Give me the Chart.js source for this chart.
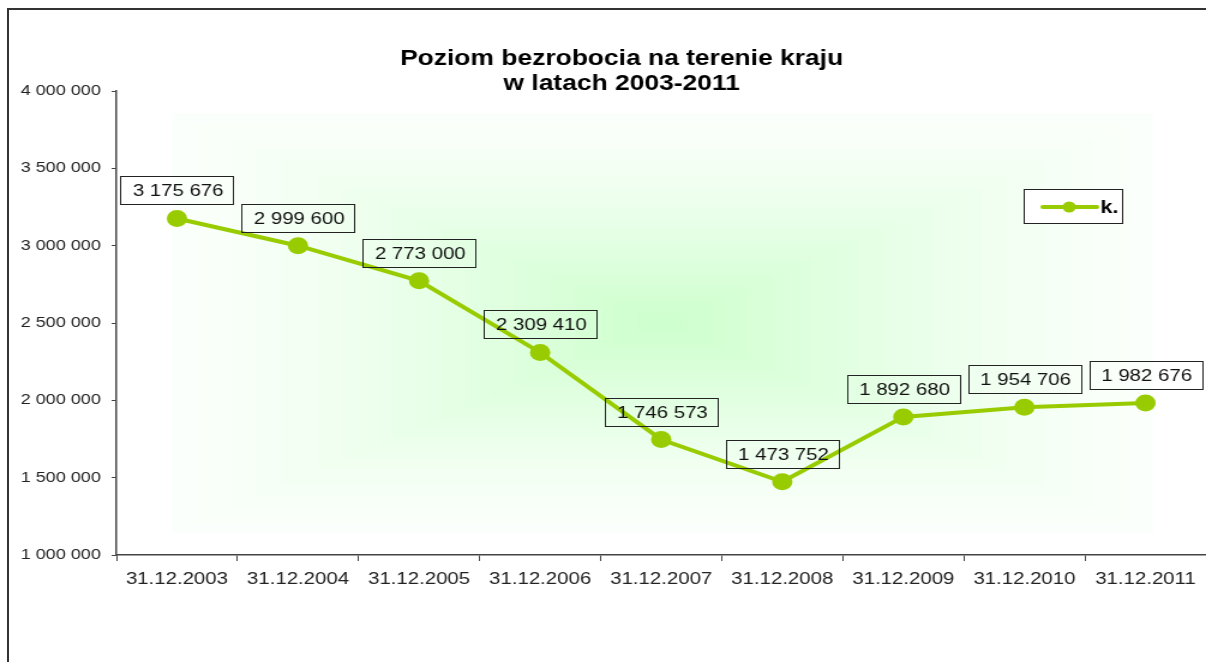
<!DOCTYPE html>
<html>
<head>
<meta charset="utf-8">
<script src="https://cdn.jsdelivr.net/npm/chart.js@4/dist/chart.umd.min.js"></script>
<style>
  html, body { margin: 0; padding: 0; background: #fff; overflow: hidden; }
  #wrap { position: relative; width: 1206px; height: 662px; }
  #frame {
    position: absolute; left: 7px; top: 8px; right: -10px; bottom: -10px;
    border: 2px solid #333; pointer-events: none;
  }
  canvas { position: absolute; left: 0; top: 0; }
</style>
</head>
<body>
<div id="wrap">
  <!-- drawn 1005 wide and stretched to 1206, like the original picture -->
  <canvas id="chart" width="1005" height="662" style="width:1206px;height:662px"></canvas>
  <div id="frame"></div>
</div>
<script>
// Chart data
const categories = [
  "31.12.2003", "31.12.2004", "31.12.2005", "31.12.2006", "31.12.2007",
  "31.12.2008", "31.12.2009", "31.12.2010", "31.12.2011",
];
const unemployed = [3175676, 2999600, 2773000, 2309410, 1746573, 1473752, 1892680, 1954706, 1982676];
const seriesLabel = "k.";
const titleLines = ["Poziom bezrobocia na terenie kraju", "w latach 2003-2011"];
const yMin = 1000000;
const yMax = 4000000;
const yStep = 500000;

const lineColor = "#99cc00";
const fontFamily = "'Liberation Sans', Arial, sans-serif";

// Polish style thousands separator
function fmt(v) {
  return String(v).replace(/\B(?=(\d{3})+(?!\d))/g, " ");
}

// Soft green rectangle gradient behind the plot
const backdropPlugin = {
  id: "backdrop",
  beforeDatasetsDraw(chart) {
    const { ctx, chartArea: a } = chart;
    const x0 = a.left + 46, x1 = a.right - 44;
    const y0 = a.top + 22, y1 = a.bottom - 22;
    const cx = (x0 + x1) / 2, cy = (y0 + y1) / 2;
    const steps = 40;
    ctx.save();
    for (let i = 0; i < steps; i++) {
      const t = i / steps;
      const k = Math.pow(t, 1.3);
      const r = Math.round(251 - (251 - 204) * k);
      const hw = (cx - x0) * (1 - t);
      const hh = (cy - y0) * (1 - t);
      ctx.fillStyle = `rgb(${r},255,${r})`;
      ctx.fillRect(cx - hw, cy - hh, hw * 2, hh * 2);
    }
    ctx.restore();
  },
};

// Boxed value labels above each point
const valueLabelPlugin = {
  id: "valueLabels",
  afterDatasetsDraw(chart) {
    const ctx = chart.ctx;
    const meta = chart.getDatasetMeta(0);
    ctx.save();
    ctx.font = "17px " + fontFamily;
    ctx.textAlign = "center";
    ctx.textBaseline = "middle";
    meta.data.forEach((pt, i) => {
      const text = fmt(unemployed[i]);
      const w = Math.round(ctx.measureText(text).width + 18);
      const h = 28;
      const bx = Math.round(pt.x - w / 2) + 0.5;
      const by = Math.round(pt.y - 14 - h) + 0.5;
      ctx.strokeStyle = "#222";
      ctx.lineWidth = 1;
      ctx.strokeRect(bx, by, w, h);
      ctx.fillStyle = "#111";
      ctx.fillText(text, pt.x + 1, by + h / 2 + 1);
    });
    ctx.restore();
  },
};

// Title and legend drawn by hand
const decorPlugin = {
  id: "decor",
  afterDraw(chart) {
    const ctx = chart.ctx;
    ctx.save();
    ctx.fillStyle = "#000";
    ctx.textAlign = "center";
    ctx.textBaseline = "alphabetic";
    ctx.font = "bold 22px " + fontFamily;
    ctx.fillText(titleLines[0], 518, 65);
    ctx.fillText(titleLines[1], 518, 90);

    // legend box
    ctx.strokeStyle = "#222";
    ctx.lineWidth = 1;
    ctx.fillStyle = "#fff";
    ctx.fillRect(853.5, 189.5, 82, 34);
    ctx.strokeRect(853.5, 189.5, 82, 34);
    ctx.strokeStyle = lineColor;
    ctx.lineWidth = 4;
    ctx.lineCap = "round";
    ctx.beginPath();
    ctx.moveTo(869, 207);
    ctx.lineTo(914, 207);
    ctx.stroke();
    ctx.fillStyle = lineColor;
    ctx.beginPath();
    ctx.arc(891, 207, 5.5, 0, Math.PI * 2);
    ctx.fill();
    ctx.fillStyle = "#000";
    ctx.textAlign = "left";
    ctx.textBaseline = "middle";
    ctx.font = "bold 18px " + fontFamily;
    ctx.fillText(seriesLabel, 917, 208);
    ctx.restore();
  },
};

const chart = new Chart(document.getElementById("chart"), {
  type: "line",
  data: {
    labels: categories,
    datasets: [
      {
        label: seriesLabel,
        data: unemployed,
        borderColor: lineColor,
        backgroundColor: lineColor,
        borderWidth: 4,
        pointRadius: 8.5,
        pointBackgroundColor: lineColor,
        pointBorderColor: lineColor,
        pointBorderWidth: 0,
        tension: 0,
        fill: false,
      },
    ],
  },
  options: {
    responsive: false,
    animation: false,
    layout: { autoPadding: false, padding: { top: 91, left: 0, right: 0, bottom: 0 } },
    plugins: {
      legend: { display: false },
      title: { display: false },
      tooltip: { enabled: false },
    },
    scales: {
      x: {
        offset: true,
        grid: {
          offset: true,
          drawOnChartArea: false,
          drawTicks: true,
          tickLength: 6,
          color: "#444",
        },
        border: { display: true, color: "#444", width: 1.5 },
        ticks: {
          color: "#222",
          font: { family: fontFamily, size: 17 },
          padding: 8,
          maxRotation: 0,
          autoSkip: false,
        },
        afterFit(scale) {
          scale.height = 107;
        },
      },
      y: {
        min: yMin,
        max: yMax,
        grid: {
          drawOnChartArea: false,
          drawTicks: true,
          tickLength: 4,
          color: "#444",
        },
        border: { display: true, color: "#444", width: 1.5 },
        ticks: {
          stepSize: yStep,
          color: "#222",
          font: { family: fontFamily, size: 15 },
          padding: 9,
          callback: (v) => fmt(v),
        },
        afterFit(scale) {
          scale.width = 97;
        },
      },
    },
  },
  plugins: [backdropPlugin, valueLabelPlugin, decorPlugin],
});

// keep the stretched display size
chart.canvas.style.width = "1206px";
chart.canvas.style.height = "662px";
</script>
</body>
</html>
